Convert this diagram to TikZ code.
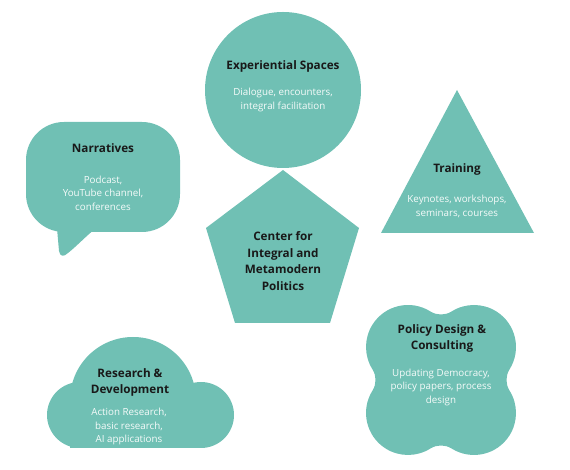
\documentclass[tikz,border=0pt]{standalone}
\usepackage{fontspec}
\setmainfont{Open Sans}
\usetikzlibrary{positioning, calc}
\definecolor{sage}{RGB}{112,192,180}
\tikzset{
        my-shape/.style={
            fill=sage, draw=none
        },
        my-title/.style={
            font=\fontsize{11.7}{16.8}\selectfont\bfseries, text=black!90, align=center, inner sep=0
        },
        my-text/.style={
            font=\fontsize{9.8}{13.5}\selectfont, text=white!94!sage, align=center, inner sep=0
        },
}

\begin{document}
\begin{tikzpicture}[x=1pt, y=1pt]
        \useasboundingbox (0,0) rectangle (570,470);

        %DRAW SHAPES (one centre each, the rest relative to it)
        \node [my-shape, circle, minimum size=156pt] (SPACES) at (283,380) {};
        \coordinate (NARR)   at (103,293);
        \coordinate (TRAIN)  at (457,290);
        \coordinate (CENTER) at (283,215);
        \coordinate (RESDEV) at (133,70);
        \coordinate (POLICY) at (441,90);

        % speech bubble
        \fill [my-shape, rounded corners=38pt] ($(NARR)+(-77,-55)$) rectangle ($(NARR)+(77,55)$);
        \fill [my-shape] ($(NARR)+(-47,-40)$) -- ($(NARR)+(-44,-74)$)
              .. controls ($(NARR)+(-43,-80)$) and ($(NARR)+(-39,-80)$) .. ($(NARR)+(-35,-76)$)
              .. controls ($(NARR)+(-25,-68)$) and ($(NARR)+(-18,-60)$) .. ($(NARR)+(-8,-52)$) -- cycle;

        % triangle
        \fill [my-shape] ($(TRAIN)+(0,90)$) -- ($(TRAIN)+(77,-53)$) -- ($(TRAIN)+(-76,-53)$) -- cycle;

        % pentagon
        \fill [my-shape] ($(CENTER)+(0,85)$) -- ($(CENTER)+(76,27)$) -- ($(CENTER)+(47,-68)$)
              -- ($(CENTER)+(-48,-68)$) -- ($(CENTER)+(-77,27)$) -- cycle;

        % cloud
        \fill [my-shape] ($(RESDEV)+(-53,-15)$) circle [radius=33];
        \fill [my-shape] ($(RESDEV)+(68,-15)$) circle [radius=33];
        \fill [my-shape] ($(RESDEV)+(-53,-48)$) rectangle ($(RESDEV)+(68,-15)$);
        \fill [my-shape] ($(RESDEV)+(-63,0)$) arc [start angle=180, end angle=0, radius=63]
              -- ($(RESDEV)+(63,-48)$) -- ($(RESDEV)+(-63,-48)$) -- cycle;

        % four lobes (lobe arcs r=42, notch arcs r=20)
        \fill [my-shape, shift={(POLICY)}] (10.65,68.56)
              arc [start angle=302.15, end angle=237.85, radius=20]
              arc [start angle=57.85,  end angle=212.15, radius=42]
              arc [start angle=32.15,  end angle=-32.15, radius=20]
              arc [start angle=147.85, end angle=302.15, radius=42]
              arc [start angle=122.15, end angle=57.85,  radius=20]
              arc [start angle=237.85, end angle=392.15, radius=42]
              arc [start angle=212.15, end angle=147.85, radius=20]
              arc [start angle=-32.15, end angle=122.15, radius=42] -- cycle;

        %DRAW TEXTS
        \node [my-title] (SPACES-T) at ($(SPACES)+(0,24)$)   {Experiential Spaces};
        \node [my-text]  (SPACES-S) at ($(SPACES)+(0,-10)$)  {Dialogue, encounters,\\integral facilitation};
        \node [my-title] (NARR-T)   at ($(NARR)+(0,29)$)     {Narratives};
        \node [my-text]  (NARR-S)   at ($(NARR)+(0,-16)$)    {Podcast,\\YouTube channel,\\conferences};
        \node [my-title] (TRAIN-T)  at ($(TRAIN)+(0,11)$)    {Training};
        \node [my-text]  (TRAIN-S)  at ($(TRAIN)+(0,-26.5)$) {Keynotes, workshops,\\seminars, courses};
        \node [my-title] (CENTER-T) at ($(CENTER)+(0,-6)$)   {Center for\\Integral and\\Metamodern\\Politics};
        \node [my-title] (RESDEV-T) at ($(RESDEV)+(-3,17.5)$) {Research \&\\Development};
        \node [my-text]  (RESDEV-S) at ($(RESDEV)+(-4,-26.5)$) {Action Research,\\basic research,\\AI applications};
        \node [my-title] (POLICY-T) at ($(POLICY)+(1,41.5)$) {Policy Design \&\\Consulting};
        \node [my-text]  (POLICY-S) at ($(POLICY)+(0,-7)$)   {Updating Democracy,\\policy papers, process\\design};

    \end{tikzpicture}
\end{document}
